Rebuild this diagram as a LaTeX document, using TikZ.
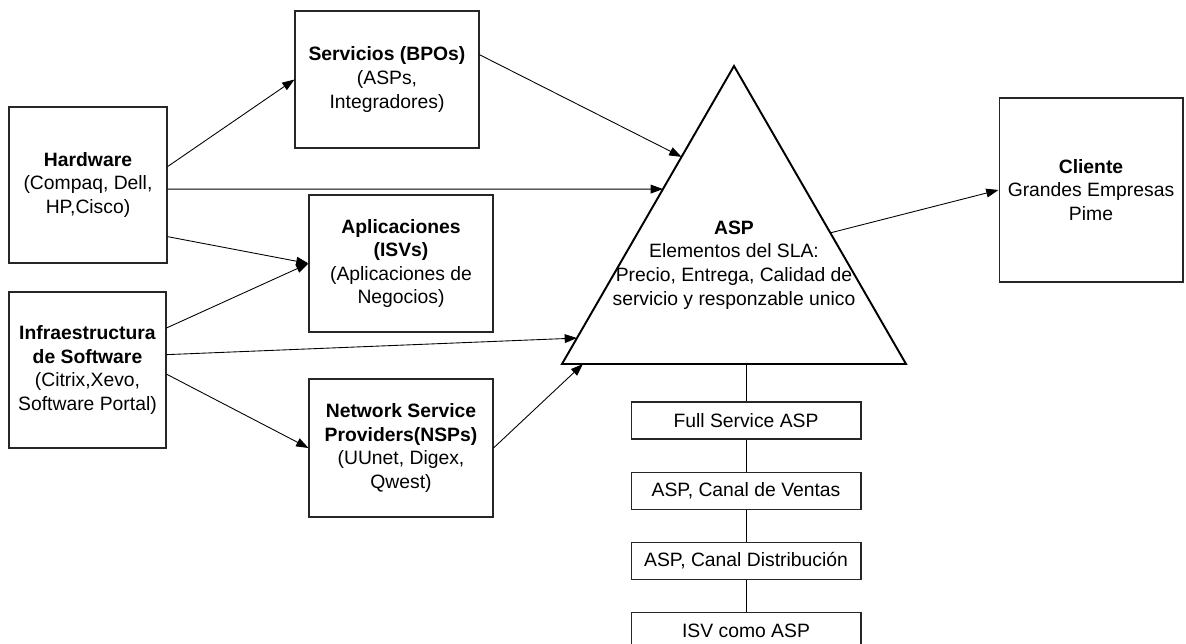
\documentclass[tikz,border=0pt]{standalone}
\usepackage{fontspec}
\setmainfont{Liberation Sans}
\usetikzlibrary{calc,positioning,arrows.meta}

\tikzset{
	caja/.style={draw=black!85, line width=0.6pt, align=center, inner sep=1pt, font=\fontsize{11}{13.4}\selectfont},
	tipo/.style={caja, minimum width=4.6cm, minimum height=0.74cm},
	flecha/.style={-{Triangle[length=7pt,width=5pt]}, line width=0.5pt},
}

\begin{document}
\begin{tikzpicture}[x=0.02cm,y=-0.02cm]
	%%%%% START %%%%%
	\useasboundingbox (0,0) rectangle (1186,644);
	
	% fuentes
	\node[caja, minimum width=3.16cm, minimum height=3.12cm] (hw) at (88,185) {\textbf{Hardware}\\(Compaq, Dell,\\HP,Cisco)};
	\node[caja, minimum width=3.14cm, minimum height=3.12cm] (infra) at (87.5,370) {\textbf{Infraestructura}\\\textbf{de Software}\\(Citrix,Xevo,\\Software Portal)};
	
	\node[caja, minimum width=3.68cm, minimum height=2.74cm] (serv) at (387,79.5) {\textbf{Servicios (BPOs)}\\(ASPs,\\Integradores)};
	\node[caja, minimum width=3.68cm, minimum height=2.74cm] (apl) at (401,263.5) {\textbf{Aplicaciones}\\\textbf{(ISVs)}\\(Aplicaciones de\\Negocios)};
	\node[caja, minimum width=3.68cm, minimum height=2.76cm] (nsp) at (401,448) {\textbf{Network Service}\\\textbf{Providers(NSPs)}\\(UUnet, Digex,\\Qwest)};
	
	\node[caja, minimum width=3.68cm, minimum height=3.68cm] (cli) at (1091,190) {\textbf{Cliente}\\Grandes Empresas\\Pime};
	
	% piramide ASP
	\coordinate (top) at (734,66);
	\coordinate (bl) at (562,364);
	\coordinate (br) at (906,364);
	\draw[line width=1.1pt] (top) -- (bl) -- (br) -- cycle;
	\node[align=center, font=\fontsize{11}{13.4}\selectfont] (asp) at (734,265) {\textbf{ASP}\\Elementos del SLA:\\Precio, Entrega, Calidad de\\servicio y responzable unico};
	
	\coordinate (aServ) at ($(bl)!0.695!(top)$);
	\coordinate (aHw) at ($(bl)!0.587!(top)$);
	\coordinate (aInfra) at ($(bl)!0.087!(top)$);
	\coordinate (aNsp) at ($(bl)!0.061!(br)$);
	\coordinate (aCli) at ($(br)!0.44!(top)$);
	
	% tipos de ASP
	\node[tipo] (fs) at (746,420.5) {Full Service ASP};
	\node[tipo, below=0.64cm of fs] (cv) {ASP, Canal de Ventas};
	\node[tipo, below=0.64cm of cv] (cd) {ASP, Canal Distribución};
	\node[tipo, below=0.64cm of cd] (isv) {ISV como ASP};
	
	\draw[line width=0.5pt] (fs.north |- bl) -- (fs);
	\draw[line width=0.5pt] (fs) -- (cv);
	\draw[line width=0.5pt] (cv) -- (cd);
	\draw[line width=0.5pt] (cd) -- (isv);
	
	% flechas
	\draw[flecha] (hw.13) -- (serv.west);
	\draw[flecha] (hw.-3) -- (aHw);
	\draw[flecha] (hw.-33) -- (apl.west);
	\draw[flecha] (serv.15) -- (aServ);
	\draw[flecha] (infra.28) -- (apl.west);
	\draw[flecha] (infra.11) -- (aInfra);
	\draw[flecha] (infra.-3) -- (nsp.west);
	\draw[flecha] (nsp.east) -- (aNsp);
	\draw[flecha] (aCli) -- (cli.west);
	
	%%%%% END %%%%%
\end{tikzpicture}
\end{document}
